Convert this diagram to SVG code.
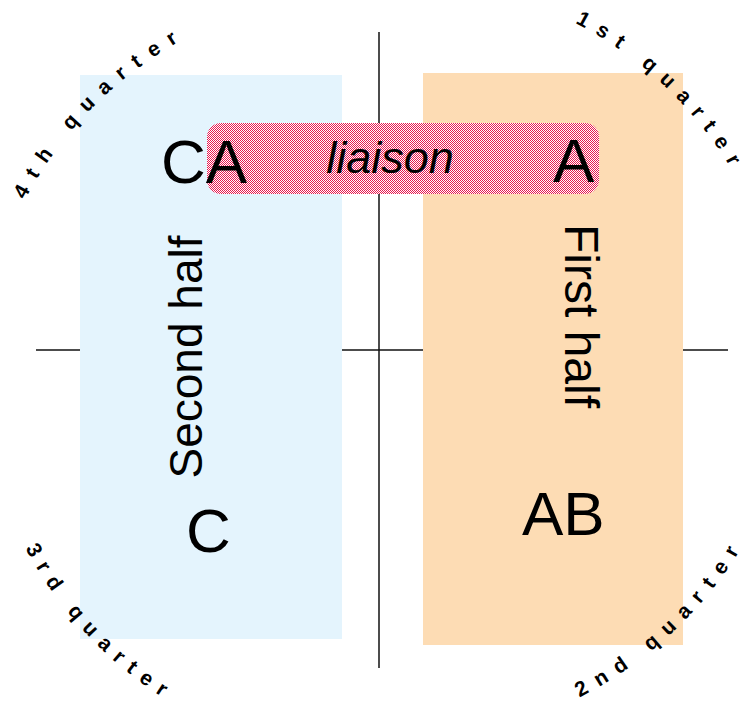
<svg xmlns="http://www.w3.org/2000/svg" width="740" height="704" viewBox="0 0 740 704">
<defs>
<pattern id="hatch" x="0" y="0" width="2" height="2" patternUnits="userSpaceOnUse">
<rect width="2" height="2" fill="#FFFFFF"/>
<rect x="0" y="0" width="1" height="1" fill="#E8174F"/>
<rect x="1" y="1" width="1" height="1" fill="#E8174F"/>
</pattern>
<path id="q4" d="M23.6,204 L27.7,194.9 A390,390 0 0 1 174.8,44 L191.5,33"/>
<path id="q1" d="M571.6,20.3 L580.1,25.5 A390,390 0 0 1 727.4,162.6 L737.1,180.1"/>
<path id="q2" d="M576,699.8 L584.6,694.6 A400,400 0 0 0 737.3,554.4 L747,536.9"/>
<path id="q3" d="M23.3,544.7 L28.2,553.4 A400,400 0 0 0 158.4,694.7 L175.2,705.6"/>
</defs>
<style>
.axis{stroke:#111;stroke-width:1.5;fill:none}
.big{font-family:"Liberation Sans",Arial,sans-serif;font-size:62px;fill:#000}
.half{font-family:"Liberation Sans",Arial,sans-serif;fill:#000;text-anchor:middle}
.qt{font-family:"Liberation Sans",Arial,sans-serif;font-size:21px;font-weight:bold;fill:#000}
</style>
<g id="connectors">
<line class="axis" x1="379" y1="32" x2="379" y2="668"/>
<line class="axis" x1="36" y1="350" x2="728" y2="350"/>
</g>
<g id="second-half">
<rect x="80" y="75" width="262" height="564" fill="#E4F4FD"/>
<text class="half" font-size="46" transform="translate(202,357) rotate(-90)">Second half</text>
</g>
<g id="first-half">
<rect x="423" y="73" width="260" height="572" fill="#FDDCB4"/>
<text class="half" font-size="48" transform="translate(565,316) rotate(90)">First half</text>
</g>
<g id="liaison">
<rect x="207" y="123" width="392" height="71" rx="14" fill="url(#hatch)"/>
<text x="390" y="173" font-family="Liberation Sans, Arial, sans-serif" font-size="45" font-style="italic" text-anchor="middle">liaison</text>
</g>
<g id="node-CA"><text class="big" x="161" y="183">CA</text></g>
<g id="node-A"><text class="big" x="553" y="182">A</text></g>
<g id="node-C"><text class="big" x="186" y="552">C</text></g>
<g id="node-AB"><text class="big" x="522" y="535">AB</text></g>
<g id="quarters">
<text class="qt" letter-spacing="11.4"><textPath href="#q4" startOffset="4.2">4th quarter</textPath></text>
<text class="qt" letter-spacing="10.5"><textPath href="#q1" startOffset="4.2">1st quarter</textPath></text>
<text class="qt" letter-spacing="10.4"><textPath href="#q2" startOffset="4.2">2nd quarter</textPath></text>
<text class="qt" letter-spacing="9.3"><textPath href="#q3" startOffset="4.2">3rd quarter</textPath></text>
</g>
</svg>
